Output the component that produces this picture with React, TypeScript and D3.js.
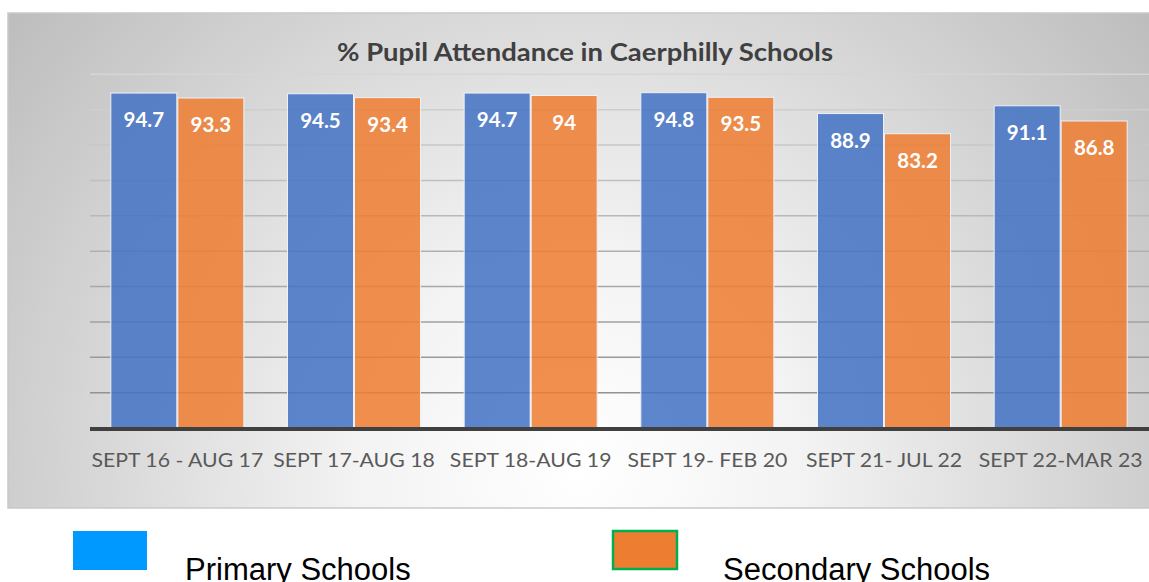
import React from "react";
import * as d3 from "d3";

// periods on the x axis
const periods = [
  "SEPT 16 - AUG 17",
  "SEPT 17-AUG 18",
  "SEPT 18-AUG 19",
  "SEPT 19- FEB 20",
  "SEPT 21- JUL 22",
  "SEPT 22-MAR 23",
];
const primary = [94.7, 94.5, 94.7, 94.8, 88.9, 91.1];
const secondary = [93.3, 93.4, 94, 93.5, 83.2, 86.8];
const seriesNames = ["Primary Schools", "Secondary Schools"];
const yTicks = [10, 20, 30, 40, 50, 60, 70, 80, 90, 100];

const W = 1149;
const H = 582;

export default function App() {
  const x0 = d3
    .scaleBand<string>()
    .domain(periods)
    .range([89, 1149])
    .paddingInner(0.247)
    .paddingOuter(0.1235);
  const x1 = d3
    .scaleBand<number>()
    .domain([0, 1])
    .range([0, x0.bandwidth()])
    .paddingInner(0.015);
  const y = d3.scaleLinear().domain([0, 100]).range([428, 74.3]);
  const gridColor = d3.interpolateRgb("#8a8a8a", "#d6d6d6");

  const series = [
    { name: seriesNames[0], values: primary, color: "#4472C4" },
    { name: seriesNames[1], values: secondary, color: "#ED7D31" },
  ];

  const font = "Lato, 'Open Sans', sans-serif";

  return (
    <svg
      width={W}
      height={H}
      style={{ position: "absolute", left: 0, top: 0, background: "#fff" }}
    >
      <defs>
        <radialGradient
          id="bg"
          gradientUnits="userSpaceOnUse"
          cx={580}
          cy={470}
          r={740}
        >
          <stop offset="0" stopColor="#ffffff" />
          <stop offset="0.3" stopColor="#f3f3f3" />
          <stop offset="1" stopColor="#bcbcbc" />
        </radialGradient>
      </defs>

      {/* chart area */}
      <rect
        x={8}
        y={13}
        width={1150}
        height={495}
        fill="url(#bg)"
        stroke="#c9c9c9"
        strokeWidth={1.5}
      />

      <text
        x={585}
        y={61}
        textAnchor="middle"
        fontFamily={font}
        fontWeight="bold"
        fontSize={25}
        fill="#404040"
        textLength={496}
        lengthAdjust="spacingAndGlyphs"
      >
        % Pupil Attendance in Caerphilly Schools
      </text>

      {/* gridlines */}
      {yTicks.map((t) => (
        <line
          key={t}
          x1={90}
          x2={1149}
          y1={y(t)}
          y2={y(t)}
          stroke={gridColor(t / 100)}
          strokeWidth={1.5}
        />
      ))}

      {/* bars */}
      {periods.map((p, i) => (
        <g key={p} transform={`translate(${x0(p)},0)`}>
          {series.map((s, j) => (
            <g key={s.name}>
              <rect
                x={x1(j)}
                y={y(s.values[i])}
                width={x1.bandwidth()}
                height={y(0) - y(s.values[i])}
                fill={s.color}
                fillOpacity={0.86}
                stroke="#eef1f7"
                strokeWidth={1}
              />
              <text
                x={(x1(j) || 0) + x1.bandwidth() / 2}
                y={y(s.values[i]) + 34}
                textAnchor="middle"
                fontFamily={font}
                fontWeight="bold"
                fontSize={20.5}
                fill="#ffffff"
              >
                {s.values[i]}
              </text>
            </g>
          ))}
        </g>
      ))}

      {/* baseline */}
      <line x1={90} x2={1149} y1={429} y2={429} stroke="#404040" strokeWidth={4} />

      {/* category labels, a little wide like the original */}
      {periods.map((p) => (
        <text
          key={p}
          transform={`translate(${(x0(p) || 0) + x0.bandwidth() / 2},467) scale(1.09,1)`}
          textAnchor="middle"
          fontFamily={font}
          fontSize={19.5}
          fill="#595959"
        >
          {p}
        </text>
      ))}

      {/* legend */}
      <rect x={73} y={531} width={74} height={39} fill="#0099FF" />
      <text x={185} y={580} fontFamily="'Liberation Sans', Arial, sans-serif" fontSize={31} fill="#000">
        {seriesNames[0]}
      </text>
      <rect
        x={613}
        y={531}
        width={64}
        height={38}
        fill="#ED7D31"
        stroke="#00B050"
        strokeWidth={2.5}
      />
      <text x={723} y={580} fontFamily="'Liberation Sans', Arial, sans-serif" fontSize={31} fill="#000">
        {seriesNames[1]}
      </text>
    </svg>
  );
}
